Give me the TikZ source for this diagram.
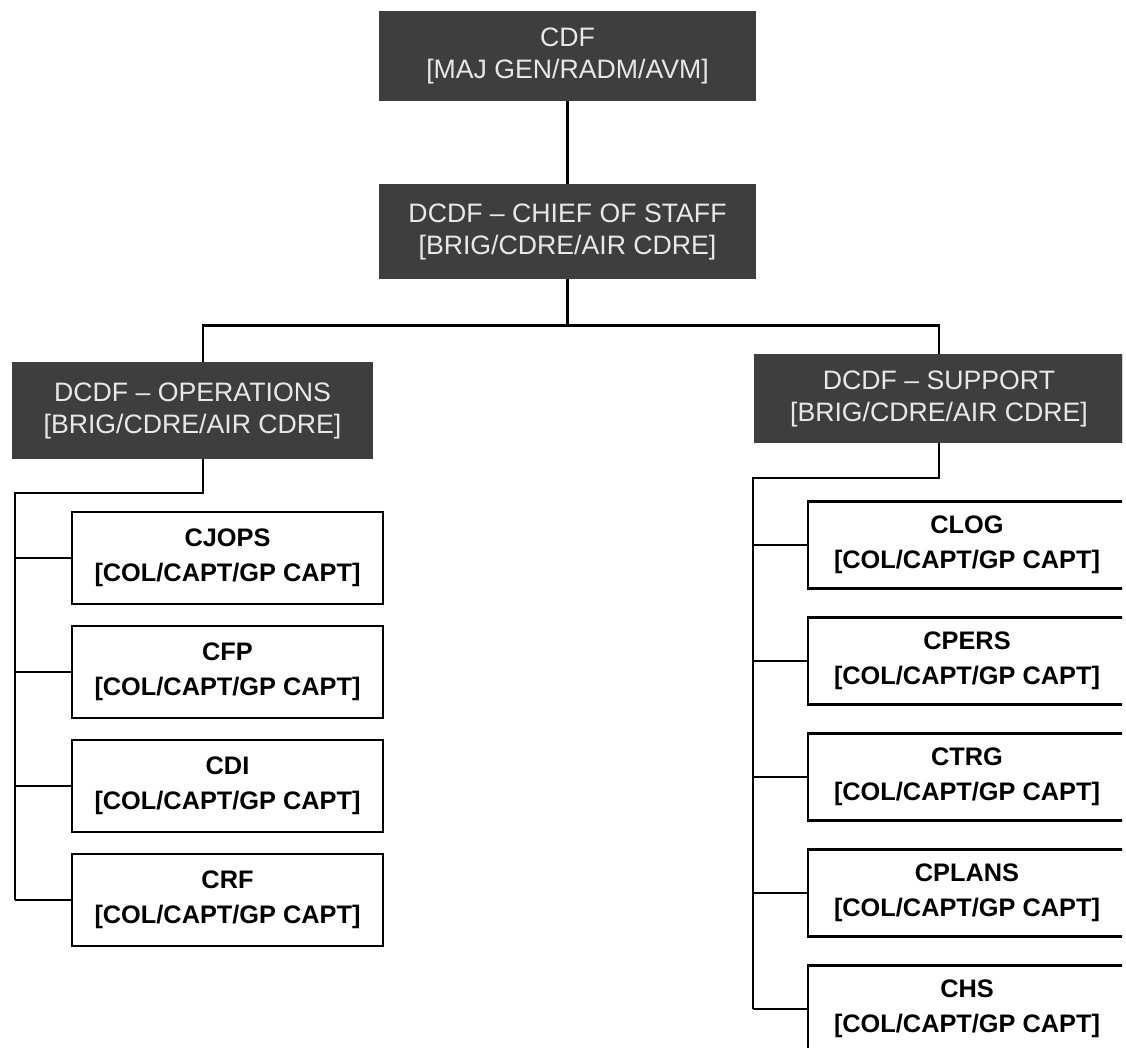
\documentclass[tikz,border=0pt]{standalone}
\usepackage{fontspec}
\setmainfont{Liberation Sans}

\definecolor{rankgrey}{RGB}{62,62,62}
\definecolor{ranktext}{RGB}{232,232,232}

\tikzset{every picture/.style={line width=2pt}}
\tikzset{
  command/.style={draw=rankgrey, fill=rankgrey, text=ranktext, align=center, inner sep=0pt,
    font=\fontsize{20}{24}\selectfont},
  branch/.style={draw=black, fill=white, align=center, inner sep=0pt,
    font=\fontsize{19}{26}\selectfont\bfseries},
}

\begin{document}
\begin{tikzpicture}[x=0.75pt,y=0.75pt,yscale=-1,xscale=1]
            \path[use as bounding box] (0,0) rectangle (1126,1047);
            \clip (-5,-5) rectangle (1122,1047);

            % Command Nodes
            \node [command, minimum width=281.25pt, minimum height=66pt] (cdf) at (567.5,56) {CDF\\{}[MAJ GEN/RADM/AVM]};
            \node [command, minimum width=281.25pt, minimum height=69.75pt] (cos) at (567.5,231.5) {DCDF -- CHIEF OF STAFF\\{}[BRIG/CDRE/AIR CDRE]};
            \node [command, minimum width=269.25pt, minimum height=71.25pt] (ops) at (192.5,410.5) {DCDF -- OPERATIONS\\{}[BRIG/CDRE/AIR CDRE]};
            \node [command, minimum width=276pt, minimum height=65.25pt] (sup) at (939,398.5) {DCDF -- SUPPORT\\{}[BRIG/CDRE/AIR CDRE]};

            % Top Links
            \draw (cdf) -- (cos);
            \draw (cos.south) -- ++(0,46) coordinate (bus);
            \draw ([xshift=7.9pt]ops.north) |- (bus) -| (sup.north);

            % Operations Branches
            \coordinate (opsbus) at (15,493);
            \foreach \name/\title [count=\i from 0] in {cjops/CJOPS, cfp/CFP, cdi/CDI, crf/CRF} {
                \node [branch, minimum width=233.25pt, minimum height=69pt] (\name) at (227.5,{558+114*\i}) {\title\\{}[COL/CAPT/GP CAPT]};
                \draw (opsbus |- \name.west) -- (\name.west);
            }
            \draw ([xshift=7.9pt]ops.south) |- (opsbus) -- (opsbus |- crf.west);

            % Support Branches
            \coordinate (supbus) at (753,478);
            \foreach \name/\title [count=\i from 0] in {clog/CLOG, cpers/CPERS, ctrg/CTRG, cplans/CPLANS, chs/CHS} {
                \node [branch, minimum width=238.5pt, minimum height=65.25pt] (\name) at (967,{545+116*\i}) {\title\\{}[COL/CAPT/GP CAPT]};
                \draw (supbus |- \name.west) -- (\name.west);
            }
            \draw (sup.south) |- (supbus) -- (supbus |- chs.west);

        \end{tikzpicture}
\end{document}
